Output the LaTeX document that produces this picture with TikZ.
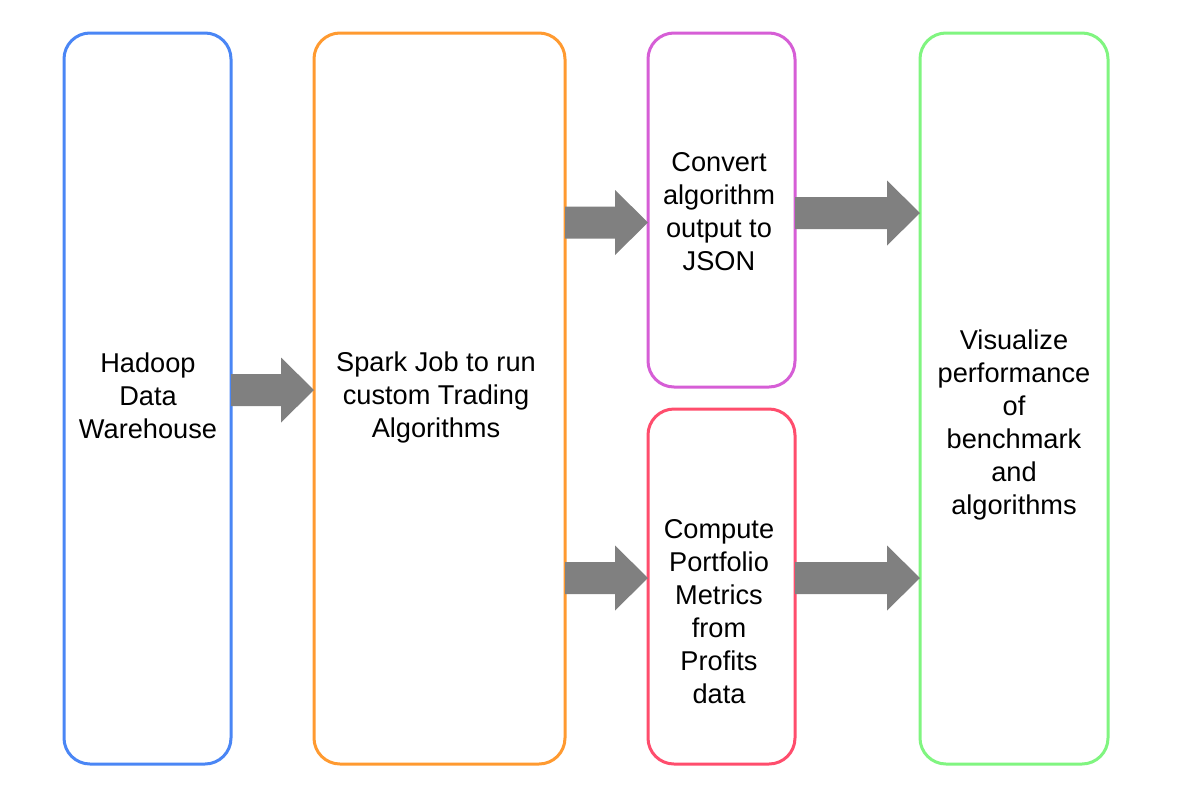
\documentclass[tikz,border=0pt]{standalone}
\usepackage{fontspec}
\setmainfont{Liberation Sans}
\usetikzlibrary{calc}
\definecolor{cblue}{HTML}{4A86F5}
\definecolor{corange}{HTML}{FF9A30}
\definecolor{cmag}{HTML}{D65ED6}
\definecolor{cred}{HTML}{FF4D6D}
\definecolor{cgreen}{HTML}{80F580}
\definecolor{cgray}{HTML}{808080}
\tikzset{
  box/.style={draw=#1, line width=3pt, rounded corners=26pt, outer sep=0pt, inner sep=0pt},
  lbl/.style={align=center, inner sep=0pt, font=\fontsize{27.2}{33}\selectfont},
  arrowfill/.style={fill=cgray}
}
\newcommand\blockarrow[3]{%
  \path (#1.east) coordinate (ba-s) (#2.west) coordinate (ba-e);
  \fill[arrowfill] ($(ba-s |- 0,#3)+(0,-16)$) -- ($(ba-e |- 0,#3)+(-33,-16)$)
    -- ($(ba-e |- 0,#3)+(-33,-32.5)$) -- (ba-e |- 0,#3)
    -- ($(ba-e |- 0,#3)+(-33,32.5)$) -- ($(ba-e |- 0,#3)+(-33,16)$)
    -- ($(ba-s |- 0,#3)+(0,16)$) -- cycle;}
\begin{document}
\begin{tikzpicture}[x=1pt,y=-1pt]
\useasboundingbox (0,0) rectangle (1184,804);
\fill[white] (0,0) rectangle (1184,804);
\node[box=cblue, minimum width=167pt, minimum height=731pt] (hadoop) at (147.5,398.5) {};
\node[box=corange, minimum width=251pt, minimum height=731pt] (spark) at (439.5,398.5) {};
\node[box=cmag, minimum width=147pt, minimum height=354pt] (convert) at (721.5,210) {};
\node[box=cred, minimum width=147pt, minimum height=355pt] (compute) at (721.5,586.5) {};
\node[box=cgreen, minimum width=188pt, minimum height=731pt] (visual) at (1014,398.5) {};
\node[lbl] (t1) at (148,396) {Hadoop\\Data\\Warehouse};
\node[lbl] (t2) at (436,397) {Spark Job to run\\custom Trading\\Algorithms};
\node[lbl] (t3) at (719,212) {Convert\\algorithm\\output to\\JSON};
\node[lbl] (t4) at (719,612) {Compute\\Portfolio\\Metrics\\from\\Profits\\data};
\node[lbl] (t5) at (1014,425) {Visualize\\performance\\of\\benchmark\\and\\algorithms};
\blockarrow{hadoop}{spark}{390}
\blockarrow{spark}{convert}{222.5}
\blockarrow{spark}{compute}{578}
\blockarrow{convert}{visual}{213}
\blockarrow{compute}{visual}{578}
\end{tikzpicture}
\end{document}
